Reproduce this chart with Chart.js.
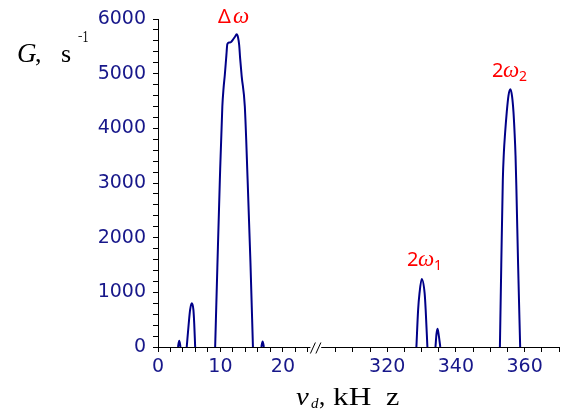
<!DOCTYPE html>
<html>
<head>
<meta charset="utf-8">
<script src="https://cdn.jsdelivr.net/npm/chart.js@4.4.1/dist/chart.umd.min.js"></script>
<style>
  html, body { margin: 0; padding: 0; background: #fff; }
</style>
</head>
<body>
<canvas id="rateChart" width="566" height="415"></canvas>
<script>
// left part of the broken axis (kHz), null = gap between peaks
const lowFreq = [3.2, 3.4, 3.6, null,
  4.6, 4.92, 5.14, 5.41, 5.67, 5.8, 5.95, null,
  9.15, 9.5, 9.9, 10.3, 10.5, 10.7, 10.95, 11.1, 11.4, 11.7, 11.95, 12.3, 12.6, 12.8, 13.0, 13.15, 13.4, 13.9, 14.35, 14.8, 15.2, null,
  16.55, 16.75, 16.95];
const lowRate = [0, 115, 0, null,
  0, 430, 680, 800, 680, 430, 0, null,
  0, 1450, 3050, 4400, 4740, 4980, 5340, 5540, 5570, 5580, 5615, 5670, 5720, 5670, 5520, 5280, 4950, 4400, 3050, 1550, 0, null,
  0, 100, 0];

// right part of the broken axis (kHz)
const highFreq = [328.5, 329.0, 329.4, 330.05, 330.9, 331.2, 331.7, null,
  334.05, 334.35, 334.65, 334.95, 335.45, null,
  352.8, 353.2, 353.65, 353.95, 354.3, 354.8, 355.3, 355.85, 356.35, 356.75, 357.05, 357.35, 357.6, 358.1, 358.7];
const highRate = [0, 680, 980, 1245, 980, 680, 0, null,
  0, 240, 335, 240, 0, null,
  0, 1500, 3050, 3550, 3900, 4300, 4600, 4714, 4580, 4300, 3950, 3500, 2900, 1500, 0];

const lowTicks = [0, 2, 4, 6, 8, 10, 12, 14, 16, 18, 20, 22, 24];
const highTicks = [305, 310, 315, 320, 325, 330, 335, 340, 345, 350, 355, 360, 365, 370];
const rateTicks = [];
for (let v = 0; v <= 6000; v += 200) rateTicks.push(v);

const navy = '#000088';
const labelColor = '#17178a';
const tickFont = { family: '"DejaVu Sans", sans-serif', size: 19 };

function toPoints(xs, ys) {
  return xs.map((x, i) => ({ x: x, y: ys[i] }));
}

// draw one text piece at (x, y), optionally stretched horizontally
function txt(ctx, t, font, x, y, sx) {
  ctx.save();
  ctx.translate(x, y);
  ctx.scale(sx || 1, 1);
  ctx.font = font;
  ctx.fillText(t, 0, 0);
  ctx.restore();
}

const decor = {
  id: 'decor',
  afterDraw(chart) {
    const { ctx } = chart;
    const { x, x2, y } = chart.scales;
    const y0 = Math.round(y.getPixelForValue(0)) + 0.5;
    ctx.save();
    // axis line with break
    ctx.strokeStyle = '#000';
    ctx.lineWidth = 1;
    const xa = x.getPixelForValue(0), xb = x.getPixelForValue(24.4);
    const xc = x2.getPixelForValue(300.8), xd = x2.getPixelForValue(370);
    ctx.beginPath();
    ctx.moveTo(xa, y0); ctx.lineTo(xb, y0);
    ctx.moveTo(xc, y0); ctx.lineTo(xd, y0);
    ctx.moveTo(xb, y0 + 6); ctx.lineTo(xb + 5, y0 - 5);
    ctx.moveTo(xb + 5.5, y0 + 6); ctx.lineTo(xb + 10.5, y0 - 5);
    ctx.stroke();

    // axis titles
    ctx.fillStyle = '#000';
    ctx.textBaseline = 'alphabetic';
    const serif = '"Liberation Serif", serif';
    txt(ctx, 'G', 'italic 27px ' + serif, 17, 62);
    txt(ctx, ',', '26px ' + serif, 35, 62);
    txt(ctx, 's', '26px ' + serif, 61, 62);
    txt(ctx, '\u2212', '17px ' + serif, 78, 42, 0.45);
    txt(ctx, '1', '17px ' + serif, 82.5, 42, 0.7);

    txt(ctx, '\u03bd', 'italic 25px ' + serif, 296, 405, 1.15);
    txt(ctx, 'd', 'italic 15px ' + serif, 311, 408);
    txt(ctx, ',', '25px ' + serif, 319, 405);
    txt(ctx, 'kH', '25px ' + serif, 333, 405, 1.25);
    txt(ctx, 'z', '25px ' + serif, 386, 405, 1.2);

    // peak annotations
    ctx.fillStyle = '#ff0000';
    const sans = '"Noto Sans", sans-serif';
    const om = 'italic 23px ' + serif;
    txt(ctx, '\u0394', '20px ' + sans, 218, 23);
    txt(ctx, '\u03c9', om, 233, 23);
    txt(ctx, '2', '20px ' + sans, 407, 266);
    txt(ctx, '\u03c9', om, 418, 266);
    txt(ctx, '1', '14px ' + sans, 434, 270);
    txt(ctx, '2', '20px ' + sans, 492, 77);
    txt(ctx, '\u03c9', om, 503, 77);
    txt(ctx, '2', '14px ' + sans, 519, 81);
    ctx.restore();
  }
};

const lineStyle = {
  borderColor: navy,
  borderWidth: 2,
  pointRadius: 0,
  fill: false,
  spanGaps: false,
  cubicInterpolationMode: 'monotone'
};

new Chart(document.getElementById('rateChart'), {
  type: 'line',
  data: {
    datasets: [
      Object.assign({ label: 'low', data: toPoints(lowFreq, lowRate), xAxisID: 'x', yAxisID: 'y' }, lineStyle),
      Object.assign({ label: 'high', data: toPoints(highFreq, highRate), xAxisID: 'x2', yAxisID: 'y' }, lineStyle)
    ]
  },
  options: {
    responsive: false,
    animation: false,
    devicePixelRatio: 1,
    layout: { padding: { top: 19, right: 7, bottom: 0, left: 0 } },
    plugins: { legend: { display: false }, tooltip: { enabled: false } },
    scales: {
      y: {
        type: 'linear', min: 0, max: 6000,
        afterBuildTicks: s => { s.ticks = rateTicks.map(v => ({ value: v })); },
        afterFit: s => { s.width = 158; },
        ticks: { autoSkip: false, color: labelColor, font: tickFont, padding: 7,
          callback: v => (v % 1000 === 0 ? v : '') },
        grid: { drawOnChartArea: false, tickLength: 5, tickColor: '#000' },
        border: { color: '#000' }
      },
      x: {
        type: 'linear', position: 'bottom', min: 0, max: 64.2,
        afterBuildTicks: s => { s.ticks = lowTicks.map(v => ({ value: v })); },
        afterFit: s => { s.height = 68; },
        ticks: { autoSkip: false, maxRotation: 0, color: labelColor, font: tickFont, padding: 4,
          callback: v => (v % 10 === 0 ? v : '') },
        grid: { drawOnChartArea: false, tickLength: 5, tickColor: '#000' },
        border: { display: false }
      },
      x2: {
        type: 'linear', axis: 'x', position: { y: 0 }, min: 253.3, max: 370,
        afterBuildTicks: s => { s.ticks = highTicks.map(v => ({ value: v })); },
        ticks: { autoSkip: false, maxRotation: 0, color: labelColor, font: tickFont, padding: 4,
          callback: v => (v % 20 === 0 ? v : '') },
        grid: { drawOnChartArea: false, tickLength: 5, tickColor: '#000' },
        border: { display: false }
      }
    }
  },
  plugins: [decor]
});
</script>
</body>
</html>
